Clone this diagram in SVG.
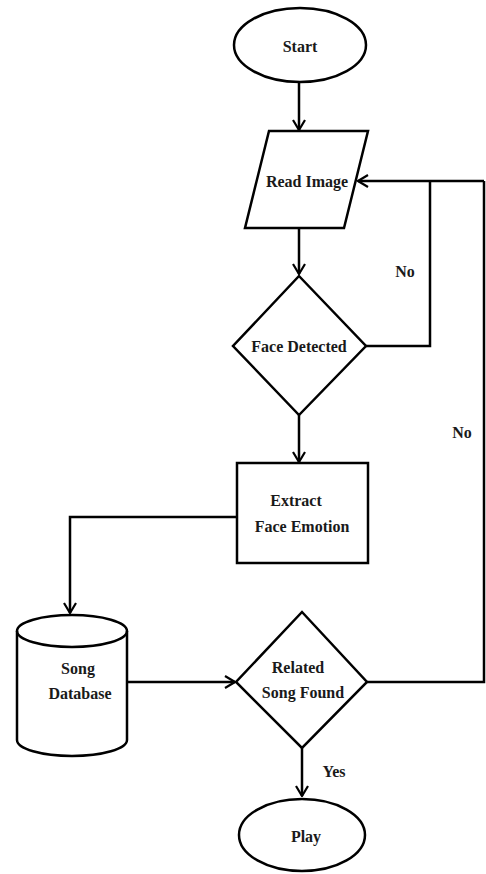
<svg xmlns="http://www.w3.org/2000/svg" width="486" height="874" viewBox="0 0 486 874">
<defs>
<style>
.s{fill:#fff;stroke:#000;stroke-width:2.5}
.c{fill:none;stroke:#000;stroke-width:2.5}
.t{font-family:"Liberation Serif",serif;font-weight:bold;font-size:16px;fill:#1a1a1a;text-anchor:middle}
</style>
<marker id="ah" viewBox="0 0 12 14" refX="11" refY="7" markerWidth="12" markerHeight="14" markerUnits="userSpaceOnUse" orient="auto">
<path d="M1,1 L11,7 L1,13" fill="none" stroke="#000" stroke-width="2.2"/>
</marker>
</defs>
<rect width="486" height="874" fill="#fff"/>
<g id="connectors">
<line class="c" x1="299" y1="82" x2="299" y2="130" marker-end="url(#ah)"/>
<line class="c" x1="299" y1="228" x2="299" y2="274" marker-end="url(#ah)"/>
<polyline class="c" points="366,346 430,346 430,181"/>
<polyline class="c" points="484,181 358,181" marker-end="url(#ah)"/>
<line class="c" x1="299" y1="415" x2="299" y2="462" marker-end="url(#ah)"/>
<polyline class="c" points="237,517 70,517 70,613" marker-end="url(#ah)"/>
<line class="c" x1="127" y1="682" x2="235" y2="682" marker-end="url(#ah)"/>
<polyline class="c" points="367,682 484,682 484,181"/>
<line class="c" x1="302" y1="748" x2="302" y2="796" marker-end="url(#ah)"/>
<text class="t" x="405" y="277">No</text>
<text class="t" x="462" y="438">No</text>
<text class="t" x="334" y="777">Yes</text>
</g>
<g id="start">
<ellipse class="s" cx="300" cy="45" rx="66" ry="37"/>
<text class="t" x="300" y="52">Start</text>
</g>
<g id="read-image">
<polygon class="s" points="269,131 368,131 344,228 245,228"/>
<text class="t" x="307" y="187">Read Image</text>
</g>
<g id="face-detected">
<polygon class="s" points="299,276 366,346 299,415 233,346"/>
<text class="t" x="299" y="352">Face Detected</text>
</g>
<g id="extract">
<rect class="s" x="237" y="463" width="131" height="100"/>
<text class="t" x="296" y="506">Extract</text>
<text class="t" x="302" y="532">Face Emotion</text>
</g>
<g id="song-db">
<path class="s" d="M17,631 L17,740 A55,16 0 0 0 127,740 L127,631 A55,16 0 0 0 17,631 Z"/>
<path class="c" d="M17,631 A55,16 0 0 0 127,631"/>
<text class="t" x="78" y="674">Song</text>
<text class="t" x="80" y="699">Database</text>
</g>
<g id="related">
<polygon class="s" points="302,612 367,682 302,748 236,682"/>
<text class="t" x="298" y="673">Related</text>
<text class="t" x="303" y="698">Song Found</text>
</g>
<g id="play">
<ellipse class="s" cx="302" cy="835" rx="63" ry="36"/>
<text class="t" x="306" y="842">Play</text>
</g>
</svg>
